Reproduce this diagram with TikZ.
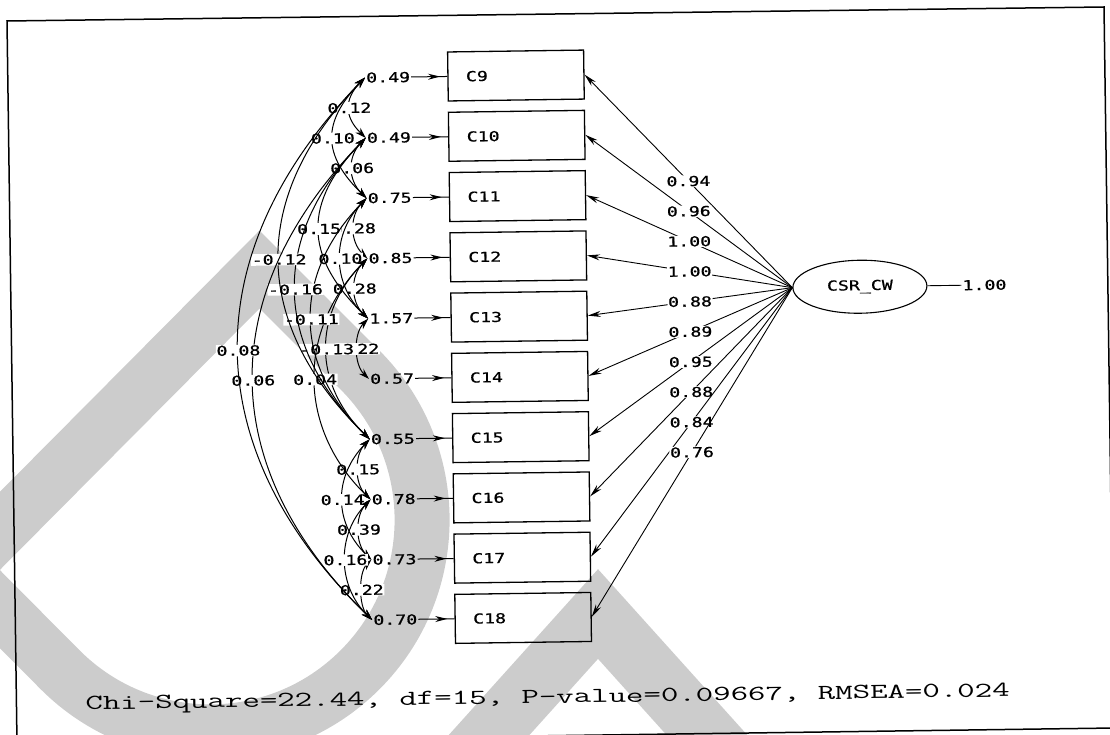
\documentclass[tikz,border=0pt]{standalone}
\usepackage{fontspec}
\usepackage{tikz}
\usetikzlibrary{positioning, shapes.geometric, arrows.meta, decorations.markings}

\newfontfamily\lisfont[FakeStretch=1.33, FakeBold=0.8]{DejaVu Sans Mono}
\newcommand{\lisfs}{\lisfont\fontsize{13.7}{16}\selectfont}
\newcommand{\fitfs}{\ttfamily\fontsize{21.3}{24}\selectfont}

\tikzset{
  ind/.style={draw, line width=1.3pt, minimum height=49pt, text width=100pt, inner xsep=18pt, align=left, font=\lisfs},
  lat/.style={ellipse, draw, line width=1.1pt, minimum width=134pt, minimum height=53pt, inner sep=0pt, font=\lisfs},
  err/.style={inner sep=1pt, font=\lisfs},
  val/.style={fill=white, inner sep=0.6pt, font=\lisfs},
  errarrow/.style={line width=1pt, postaction={decorate},
    decoration={markings, mark=at position 0.8 with {\arrow{Stealth[length=12pt,width=6pt]}}}},
  load/.style={line width=0.9pt, -{Stealth[length=13pt,width=6pt]}},
  cov/.style={line width=1pt, {Stealth[length=11pt,width=7pt]}-{Stealth[length=11pt,width=7pt]}, out=225, in=135},
}

\begin{document}
\begin{tikzpicture}[x=1pt, y=-1pt]
    \useasboundingbox (0,0) rectangle (1110,735);

    % watermark letters behind the diagram
    \draw[black!20, line width=55pt, line join=miter] (259.5,269.5) -- (360,370)
        arc[start angle=45, end angle=-135, radius=212pt] -- (-39,570) -- cycle;
    \draw[black!20, line width=60pt, line join=miter] (418,814) -- (598,614) -- (778,814);

    % page frame
    \draw[line width=1.5pt] (7,21) -- (1104,7) -- (1114,728) -- (17,743) -- cycle;

    \begin{scope}[rotate around={0.8:(555,367)}, transform shape]
    % observed indicators
    \node[ind] (c9) at (520,75) {C9};
    \node[ind, below=10pt of c9] (c10) {C10};
    \node[ind, below=10pt of c10] (c11) {C11};
    \node[ind, below=10pt of c11] (c12) {C12};
    \node[ind, below=10pt of c12] (c13) {C13};
    \node[ind, below=10pt of c13] (c14) {C14};
    \node[ind, below=10pt of c14] (c15) {C15};
    \node[ind, below=10pt of c15] (c16) {C16};
    \node[ind, below=10pt of c16] (c17) {C17};
    \node[ind, below=10pt of c17] (c18) {C18};

    % error variances
    \node[err, left=36pt of c9] (e9) {0.49};
    \node[err, left=36pt of c10] (e10) {0.49};
    \node[err, left=36pt of c11] (e11) {0.75};
    \node[err, left=36pt of c12] (e12) {0.85};
    \node[err, left=36pt of c13] (e13) {1.57};
    \node[err, left=36pt of c14] (e14) {0.57};
    \node[err, left=36pt of c15] (e15) {0.55};
    \node[err, left=36pt of c16] (e16) {0.78};
    \node[err, left=36pt of c17] (e17) {0.73};
    \node[err, left=36pt of c18] (e18) {0.70};
    \draw[errarrow] (e9) -- (c9);
    \draw[errarrow] (e10) -- (c10);
    \draw[errarrow] (e11) -- (c11);
    \draw[errarrow] (e12) -- (c12);
    \draw[errarrow] (e13) -- (c13);
    \draw[errarrow] (e14) -- (c14);
    \draw[errarrow] (e15) -- (c15);
    \draw[errarrow] (e16) -- (c16);
    \draw[errarrow] (e17) -- (c17);
    \draw[errarrow] (e18) -- (c18);

    % latent factor
    \node[lat] (csr) at (861,291) {CSR\_CW};
    \node[err, right=34pt of csr] (vcsr) {1.00};
    \draw[line width=0.9pt] (csr) -- (vcsr);

    % factor loadings
    \draw[load] (csr.west) -- node[val] (w9) {0.94} (c9.east);
    \draw[load] (csr.west) -- node[val] (w10) {0.96} (c10.east);
    \draw[load] (csr.west) -- node[val] (w11) {1.00} (c11.east);
    \draw[load] (csr.west) -- node[val] (w12) {1.00} (c12.east);
    \draw[load] (csr.west) -- node[val] (w13) {0.88} (c13.east);
    \draw[load] (csr.west) -- node[val] (w14) {0.89} (c14.east);
    \draw[load] (csr.west) -- node[val] (w15) {0.95} (c15.east);
    \draw[load] (csr.west) -- node[val] (w16) {0.88} (c16.east);
    \draw[load] (csr.west) -- node[val] (w17) {0.84} (c17.east);
    \draw[load] (csr.west) -- node[val] (w18) {0.76} (c18.east);

    % error covariances, neighbours first so wider labels sit on top
    \draw[cov, looseness=1.28] (e9.west) to node[val] (r1) {0.12} (e10.west);
    \draw[cov, looseness=1.12] (e10.west) to node[val] (r2) {0.06} (e11.west);
    \draw[cov, looseness=1.04] (e11.west) to node[val] (r3) {0.28} (e12.west);
    \draw[cov, looseness=1.04] (e12.west) to node[val] (r4) {0.28} (e13.west);
    \draw[cov, looseness=0.9] (e13.west) to node[val] (r5) {0.22} (e14.west);
    \draw[cov, looseness=0.96] (e15.west) to node[val] (r6) {0.15} (e16.west);
    \draw[cov, looseness=0.96] (e16.west) to node[val] (r7) {0.39} (e17.west);
    \draw[cov, looseness=0.8] (e17.west) to node[val] (r8) {0.22} (e18.west);
    \draw[cov, looseness=1.32] (e9.west) to node[val] (r9) {0.10} (e11.west);
    \draw[cov, looseness=1.08] (e11.west) to node[val] (r10) {0.10} (e13.west);
    \draw[cov, looseness=1.12] (e15.west) to node[val] (r11) {0.14} (e17.west);
    \draw[cov, looseness=1.04] (e16.west) to node[val] (r12) {0.16} (e18.west);
    \draw[cov, looseness=1.28] (e10.west) to node[val] (r13) {0.15} (e13.west);
    \draw[cov, looseness=1.12] (e12.west) to node[val] (r14) {-0.13} (e15.west);
    \draw[cov, looseness=1.08] (e12.west) to node[val] (r15) {0.04} (e16.west);
    \draw[cov, looseness=1.14] (e11.west) to node[val] (r16) {-0.11} (e15.west);
    \draw[cov, looseness=1.16] (e10.west) to node[val] (r17) {-0.16} (e15.west);
    \draw[cov, looseness=1.18] (e9.west) to node[val] (r18) {-0.12} (e15.west);
    \draw[cov, looseness=1.16] (e10.west) to node[val] (r19) {0.06} (e18.west);
    \draw[cov, looseness=1.16] (e9.west) to node[val] (r20) {0.08} (e18.west);

    % fit statistics
    \node[font=\fitfs, xscale=1.59, anchor=base] (fit) at (543,703) {Chi-Square=22.44, df=15, P-value=0.09667, RMSEA=0.024};
    \end{scope}
\end{tikzpicture}
\end{document}
